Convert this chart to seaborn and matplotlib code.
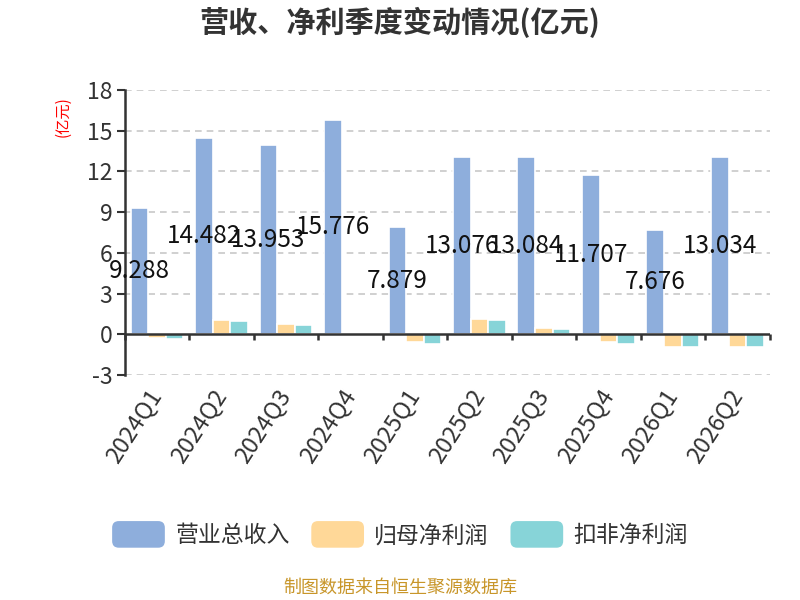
import matplotlib
matplotlib.use("Agg")
import matplotlib.pyplot as plt
import seaborn as sns
import pandas as pd
from matplotlib.patches import Patch, FancyBboxPatch
from matplotlib.legend_handler import HandlerPatch

quarters = ["2024Q1", "2024Q2", "2024Q3", "2024Q4", "2025Q1",
            "2025Q2", "2025Q3", "2025Q4", "2026Q1", "2026Q2"]
revenue = [9.288, 14.482, 13.953, 15.776, 7.879, 13.076, 13.084, 11.707, 7.676, 13.034]
net_profit = [-0.30, 1.03, 0.74, 0.05, -0.60, 1.10, 0.44, -0.55, -0.91, -0.91]
deducted_profit = [-0.35, 0.98, 0.69, -0.08, -0.70, 1.07, 0.39, -0.74, -0.96, -0.93]
series_names = ["营业总收入", "归母净利润", "扣非净利润"]
colors = ["#8eaedc", "#ffd898", "#87d4d8"]

sns.set_theme(style="white")
plt.rcParams['font.family'] = ['Noto Sans CJK SC', 'DejaVu Sans']

df = pd.DataFrame({
    "quarter": quarters * 3,
    "value": revenue + net_profit + deducted_profit,
    "series": [series_names[0]] * 10 + [series_names[1]] * 10 + [series_names[2]] * 10,
})

fig = plt.figure(figsize=(8, 6), dpi=100)
ax = fig.add_axes([0.156, 0.375, 0.806, 0.475])

sns.barplot(data=df, x="quarter", y="value", hue="series", hue_order=series_names,
            palette=colors, saturation=1, width=0.82, edgecolor="white",
            linewidth=1.2, ax=ax, legend=False, errorbar=None, zorder=3)

ax.set_ylim(-3, 18)
ax.set_xlim(-0.5, len(quarters) - 0.5)
yt = [-3, 0, 3, 6, 9, 12, 15, 18]
ax.set_yticks(yt)
ax.set_yticklabels([str(v) for v in yt], fontsize=16.5, color="#333333")
for v in yt:
    if v != 0:
        ax.axhline(v, color="#c8c8c8", linestyle=(0, (4, 3)), linewidth=1.2, zorder=1)
ax.axhline(0, color="#333333", linewidth=1.8, zorder=4)

for s in ["top", "right", "bottom"]:
    ax.spines[s].set_visible(False)
ax.spines["left"].set_color("#333333")
ax.spines["left"].set_linewidth(1.8)
ax.tick_params(axis="y", length=6, width=1.5, color="#333333", pad=3, left=True)

# category boundary ticks on zero line
ax.vlines([i - 0.5 for i in range(len(quarters) + 1)], 0, -0.45,
          color="#333333", linewidth=1.8, zorder=4, clip_on=False)

ax.set_xticks(range(len(quarters)))
ax.set_xticklabels(quarters, rotation=57, ha="right", va="center",
                   rotation_mode="anchor", fontsize=17, color="#333333")
ax.tick_params(axis="x", length=0, pad=12)
ax.set_xlabel("")
ax.set_ylabel("")

ax.bar_label(ax.containers[0], labels=[f"{v:.3f}" for v in revenue],
             label_type="center", fontsize=17.5, color="#111111", zorder=5)

fig.text(0.079, 0.805, "(亿元)", rotation=90, color="red", fontsize=11,
         ha="center", va="center")
fig.text(0.5, 0.962, "营收、净利季度变动情况(亿元)", fontsize=21, fontweight="bold",
         color="#333333", ha="center", va="center")
fig.text(0.5, 0.02, "制图数据来自恒生聚源数据库", fontsize=13, color="#c8962a",
         ha="center", va="center")


class RoundHandler(HandlerPatch):
    def create_artists(self, legend, orig_handle, xdescent, ydescent, width, height, fontsize, trans):
        p = FancyBboxPatch((-xdescent, -ydescent - height * 0.2), width, height * 1.4,
                           boxstyle="round,pad=0,rounding_size=%f" % (height * 0.35),
                           facecolor=orig_handle.get_facecolor(), edgecolor="none",
                           transform=trans)
        return [p]


handles = [Patch(facecolor=c, label=n) for c, n in zip(colors, series_names)]
fig.legend(handles=handles, loc="center", bbox_to_anchor=(0.5, 0.107), ncol=3,
           frameon=False, fontsize=16.5, handlelength=2.3, handleheight=0.9,
           handletextpad=0.45, columnspacing=0.95,
           handler_map={Patch: RoundHandler()}, labelcolor="#333333")

fig.savefig("out.png", dpi=100)
